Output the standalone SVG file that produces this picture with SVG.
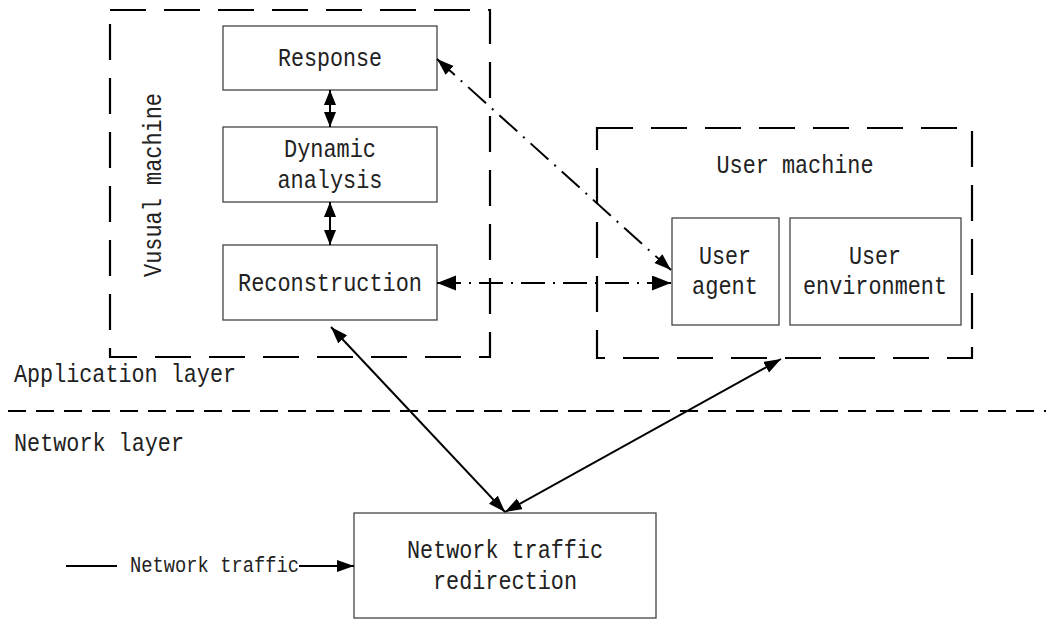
<svg xmlns="http://www.w3.org/2000/svg" width="1046" height="621" viewBox="0 0 1046 621">
<style>
text{font-family:"Liberation Mono","DejaVu Sans Mono",monospace;font-size:26px;fill:#222}
.m{text-anchor:middle}
.box{fill:#fff;stroke:#444;stroke-width:1.3}
.dbox{fill:none;stroke:#000;stroke-width:2.2;stroke-dasharray:36 18}
.layer{fill:none;stroke:#000;stroke-width:2.2;stroke-dasharray:18 10}
.solid{fill:none;stroke:#000;stroke-width:2}
.dd{fill:none;stroke:#000;stroke-width:2;stroke-dasharray:24 8 2 8}
</style>
<defs>
<marker id="big" markerUnits="userSpaceOnUse" markerWidth="20" markerHeight="16" refX="19" refY="7.5" orient="auto-start-reverse"><path d="M0,0 L19,7.5 L0,15 z" fill="#000"/></marker>
<marker id="mid" markerUnits="userSpaceOnUse" markerWidth="18" markerHeight="14" refX="17" refY="6" orient="auto-start-reverse"><path d="M0,0 L17,6 L0,12 z" fill="#000"/></marker>
<marker id="sm" markerUnits="userSpaceOnUse" markerWidth="16" markerHeight="14" refX="15" refY="6" orient="auto-start-reverse"><path d="M0,0 L15,6 L0,12 z" fill="#000"/></marker>
</defs>

<g id="visual-machine">
<rect class="dbox" x="110" y="10" width="380" height="347"/>
<text class="m" transform="translate(161,185) rotate(-90)" textLength="184" lengthAdjust="spacingAndGlyphs">Vusual machine</text>
</g>
<g id="user-machine">
<rect class="dbox" x="597" y="128" width="375" height="230"/>
<text class="m" x="795" y="173" textLength="157" lengthAdjust="spacingAndGlyphs">User machine</text>
</g>
<g id="layers">
<line class="layer" x1="8" y1="411" x2="1046" y2="411"/>
<text x="14" y="382" textLength="222" lengthAdjust="spacingAndGlyphs">Application layer</text>
<text x="14" y="451" textLength="170" lengthAdjust="spacingAndGlyphs">Network layer</text>
</g>

<g id="response">
<rect class="box" x="223" y="26" width="214" height="64"/>
<text class="m" x="330" y="66" textLength="104" lengthAdjust="spacingAndGlyphs">Response</text>
</g>
<g id="dynamic-analysis">
<rect class="box" x="223" y="127" width="214" height="75"/>
<text class="m" x="330" y="157" textLength="92" lengthAdjust="spacingAndGlyphs">Dynamic</text>
<text class="m" x="330" y="188" textLength="105" lengthAdjust="spacingAndGlyphs">analysis</text>
</g>
<g id="reconstruction">
<rect class="box" x="223" y="245" width="214" height="75"/>
<text class="m" x="330" y="291" textLength="184" lengthAdjust="spacingAndGlyphs">Reconstruction</text>
</g>
<g id="user-agent">
<rect class="box" x="672" y="218" width="107" height="107"/>
<text class="m" x="725" y="264" textLength="52" lengthAdjust="spacingAndGlyphs">User</text>
<text class="m" x="725" y="294" textLength="66" lengthAdjust="spacingAndGlyphs">agent</text>
</g>
<g id="user-environment">
<rect class="box" x="790" y="218" width="171" height="107"/>
<text class="m" x="875" y="264" textLength="52" lengthAdjust="spacingAndGlyphs">User</text>
<text class="m" x="875" y="294" textLength="144" lengthAdjust="spacingAndGlyphs">environment</text>
</g>
<g id="network-traffic-redirection">
<rect class="box" x="354" y="513" width="302" height="105"/>
<text class="m" x="505" y="558" textLength="196" lengthAdjust="spacingAndGlyphs">Network traffic</text>
<text class="m" x="505" y="589" textLength="144" lengthAdjust="spacingAndGlyphs">redirection</text>
</g>
<g id="network-traffic-input">
<text x="130" y="572" style="font-size:22px" textLength="169" lengthAdjust="spacingAndGlyphs">Network traffic</text>
</g>

<g id="connectors">
<line class="solid" x1="330" y1="90" x2="330" y2="127" stroke-width="1.5" marker-start="url(#sm)" marker-end="url(#sm)"/>
<line class="solid" x1="330" y1="202" x2="330" y2="245" stroke-width="1.5" marker-start="url(#sm)" marker-end="url(#sm)"/>
<line class="dd" x1="437" y1="59" x2="671" y2="270" marker-start="url(#mid)" marker-end="url(#mid)"/>
<line class="dd" x1="437" y1="283" x2="671" y2="283" marker-start="url(#big)" marker-end="url(#big)"/>
<line class="solid" x1="331" y1="327" x2="505" y2="512" marker-start="url(#mid)" marker-end="url(#mid)"/>
<line class="solid" x1="781" y1="359" x2="505" y2="512" marker-start="url(#mid)" marker-end="url(#mid)"/>
<line class="solid" x1="66" y1="566" x2="117" y2="566"/>
<line class="solid" x1="299" y1="566" x2="354" y2="566" marker-end="url(#mid)"/>
</g>
</svg>
